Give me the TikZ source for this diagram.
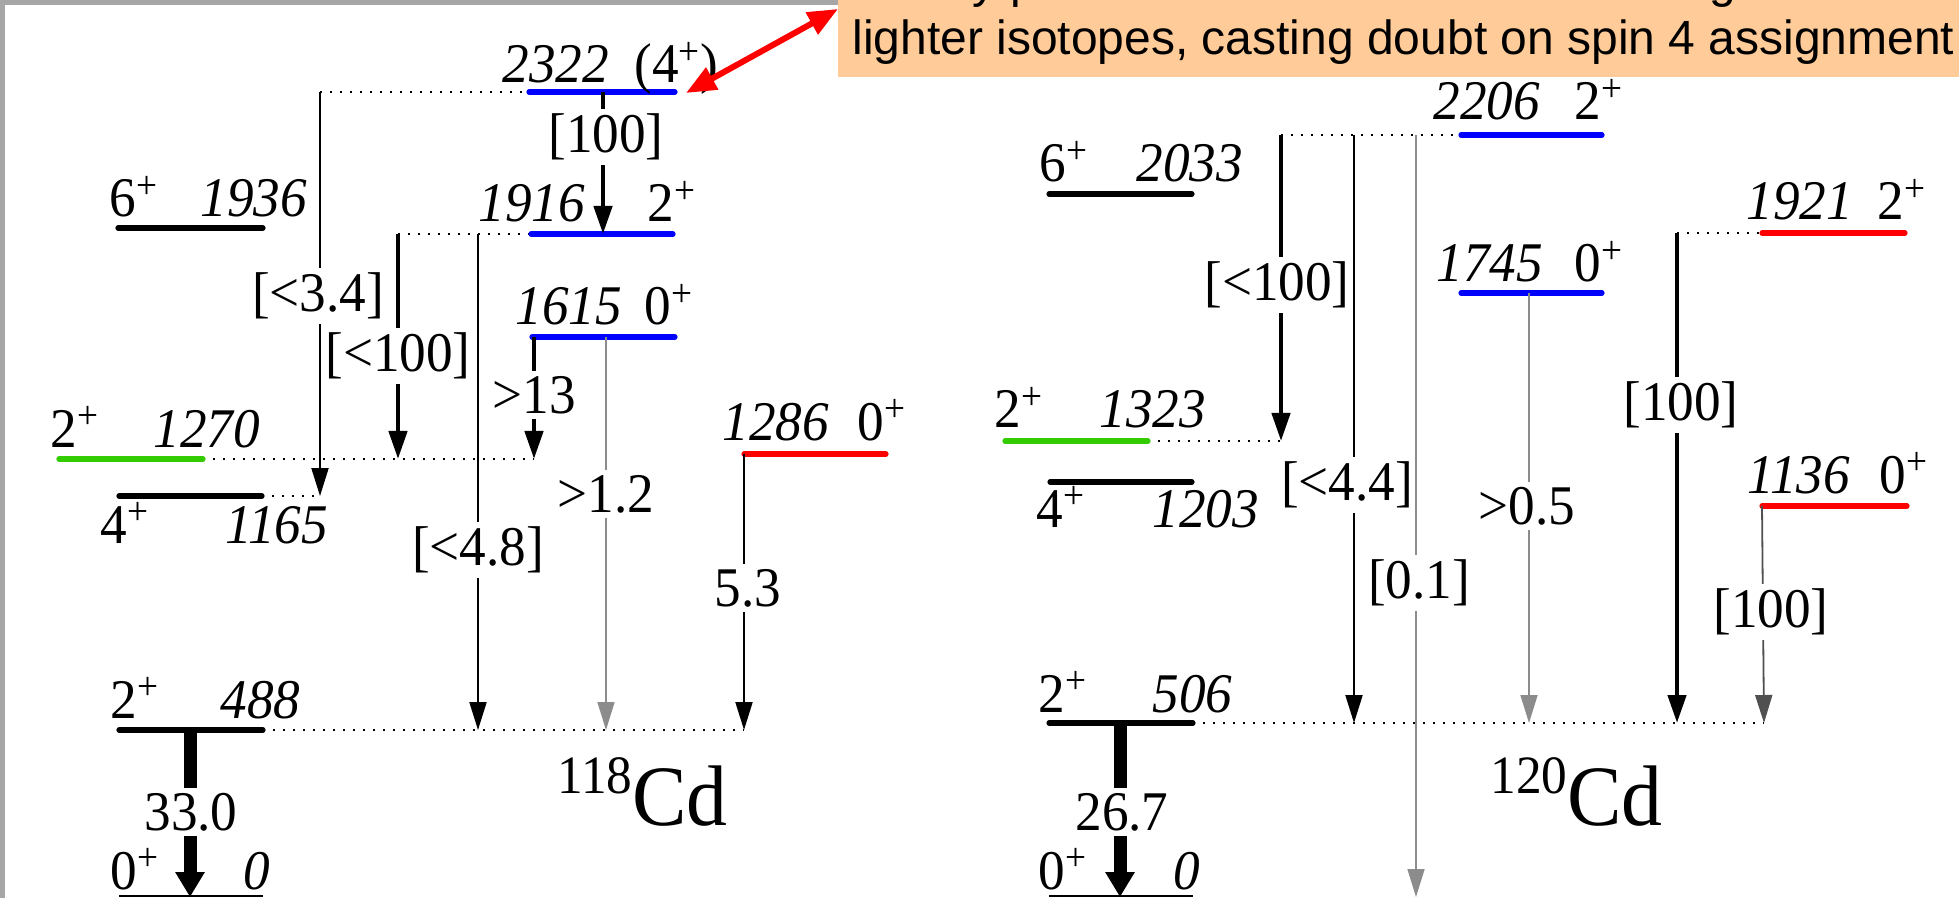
\documentclass[tikz,border=0pt]{standalone}
\usepackage{fontspec}
\setmainfont[FakeStretch=0.95]{Liberation Serif}
\newfontfamily\sansf{Liberation Sans}
\usetikzlibrary{arrows.meta}
\definecolor{lvblue}{RGB}{0,0,255}
\definecolor{lvred}{RGB}{255,0,0}
\definecolor{lvgreen}{RGB}{51,204,0}
\definecolor{peach}{RGB}{255,204,153}
\definecolor{framegray}{RGB}{166,166,166}
\definecolor{tgray}{RGB}{140,140,140}
\definecolor{dgray}{RGB}{80,80,80}
\begin{document}
\begin{tikzpicture}[x=0.5pt,y=-0.5pt,
  level/.style={line width=2.6pt, line cap=round},
  dotline/.style={line width=0.8pt, dash pattern=on 1pt off 4pt},
  thinT/.style={line width=1pt, -{Triangle[length=14pt,width=8.5pt]}},
  grayT/.style={line width=0.8pt, draw=tgray, -{Triangle[length=14pt,width=8.5pt]}},
  dgrayT/.style={line width=0.9pt, draw=dgray, -{Triangle[length=14pt,width=8.5pt]}},
  thickT/.style={line width=2.2pt, -{Triangle[length=14pt,width=9pt]}},
  groundT/.style={line width=6.5pt, -{Triangle[length=12.5pt,width=14pt]}},
  lab/.style={inner sep=0pt, anchor=base west, font=\fontsize{28}{32}\selectfont},
  elab/.style={inner sep=0pt, anchor=base west, font=\fontsize{28}{32}\selectfont\itshape},
  tlab/.style={fill=white, inner xsep=1pt, inner ysep=2.5pt, font=\fontsize{28}{32}\selectfont},
  nuc/.style={inner sep=0pt, anchor=base west, font=\fontsize{43}{47}\selectfont},
  note/.style={inner sep=0pt, anchor=base west, font=\sansf\fontsize{24}{28}\selectfont},
  redarr/.style={draw=lvred, line width=3pt, {Triangle[length=15pt,width=12pt]}-{Triangle[length=15pt,width=12pt]}},
]
\useasboundingbox (0,0) rectangle (1959,898);
\clip (0,0) rectangle (1959,898);
\fill[white] (0,0) rectangle (1959,898);
\fill[framegray] (0,0) rectangle (1959,5);
\fill[framegray] (0,0) rectangle (5,898);

% ---------------- 118Cd ----------------
\coordinate (A2322l) at (529,92);  \coordinate (A2322r) at (675,92);
\coordinate (A1916l) at (531,234); \coordinate (A1916r) at (673,234);
\coordinate (A1615l) at (532,337); \coordinate (A1615r) at (675,337);
\coordinate (A1936l) at (118,228); \coordinate (A1936r) at (263,228);
\coordinate (A1270l) at (59,459);  \coordinate (A1270r) at (203,459);
\coordinate (A1165l) at (119,496); \coordinate (A1165r) at (262,496);
\coordinate (A1286l) at (744,454); \coordinate (A1286r) at (886,454);
\coordinate (A488l) at (119,730);  \coordinate (A488r) at (263,730);
\coordinate (A0l) at (119,896);    \coordinate (A0r) at (263,896);

\coordinate (a1s) at (320,92);  \coordinate (a1e) at (320,496);
\coordinate (a2s) at (603,92);  \coordinate (a2e) at (603,234);
\coordinate (a3s) at (398,234); \coordinate (a3e) at (398,459);
\coordinate (a4s) at (478,234); \coordinate (a4e) at (478,730);
\coordinate (a5s) at (534,337); \coordinate (a5e) at (534,459);
\coordinate (a6s) at (606,337); \coordinate (a6e) at (606,730);
\coordinate (a7e) at (744,730);
\coordinate (a8s) at (190,730); \coordinate (a8e) at (190,897);

\draw[dotline] (a1s) -- (A2322l);
\draw[dotline] (A1165r) -- (a1e);
\draw[dotline] (a3s) -- (A1916l);
\draw[dotline] (A1270r) -- (a5e);
\draw[dotline] (A488r) -- (a7e);

\draw[level, lvblue] (A2322l) -- (A2322r);
\draw[level, lvblue] (A1916l) -- (A1916r);
\draw[level, lvblue] (A1615l) -- (A1615r);
\draw[level] (A1936l) -- (A1936r);
\draw[level, lvgreen] (A1270l) -- (A1270r);
\draw[level] (A1165l) -- (A1165r);
\draw[level, lvred] (A1286l) -- (A1286r);
\draw[level] (A488l) -- (A488r);
\draw[line width=1pt] (A0l) -- (A0r);

\draw[thinT] (a1s) -- (a1e);
\draw[thickT] (a2s) -- (a2e);
\draw[thickT] (a3s) -- (a3e);
\draw[thinT] (a4s) -- (a4e);
\draw[thickT] (a5s) -- (a5e);
\draw[grayT] (a6s) -- (a6e);
\draw[thinT] (A1286l) -- (a7e);
\draw[groundT] (a8s) -- (a8e);

\node[tlab] (ta1) at (318,296) {[<3.4]};
\node[tlab] (ta2) at (606,137) {[100]};
\node[tlab] (ta3) at (398,356) {[<100]};
\node[tlab] (ta4) at (478,550) {[<4.8]};
\node[tlab] (ta5) at (534,395) {>13};
\node[tlab] (ta6) at (606,494) {>1.2};
\node[tlab] (ta7) at (748,588) {5.3};
\node[tlab] (ta8) at (191,812) {33.0};

\node[elab] (e2322) at (502,83) {2322};
\node[lab]  (s2322) at (634,83) {(4\textsuperscript{+})};
\node[elab] (e1916) at (478,222) {1916};
\node[lab]  (s1916) at (647,222) {2\textsuperscript{+}};
\node[elab] (e1615) at (515,325) {1615};
\node[lab]  (s1615) at (644,325) {0\textsuperscript{+}};
\node[lab]  (s1936) at (109,217) {6\textsuperscript{+}};
\node[elab] (e1936) at (200,217) {1936};
\node[lab]  (s1270) at (50,447) {2\textsuperscript{+}};
\node[elab] (e1270) at (153,447) {1270};
\node[lab]  (s1165) at (100,543) {4\textsuperscript{+}};
\node[elab] (e1165) at (225,543) {1165};
\node[elab] (e1286) at (722,440) {1286};
\node[lab]  (s1286) at (857,440) {0\textsuperscript{+}};
\node[lab]  (s488) at (110,718) {2\textsuperscript{+}};
\node[elab] (e488) at (220,718) {488};
\node[lab]  (s0a) at (110,889) {0\textsuperscript{+}};
\node[elab] (e0a) at (243,889) {0};
\node[nuc] (cd118) at (557,825) {\raisebox{16pt}{\fontsize{27}{30}\selectfont 118}Cd};

% ---------------- 120Cd ----------------
\coordinate (B2206l) at (1461,135); \coordinate (B2206r) at (1602,135);
\coordinate (B1745l) at (1461,293); \coordinate (B1745r) at (1602,293);
\coordinate (B2033l) at (1049,194); \coordinate (B2033r) at (1192,194);
\coordinate (B1921l) at (1762,233); \coordinate (B1921r) at (1905,233);
\coordinate (B1323l) at (1005,441); \coordinate (B1323r) at (1148,441);
\coordinate (B1203l) at (1050,482); \coordinate (B1203r) at (1192,482);
\coordinate (B1136l) at (1762,506); \coordinate (B1136r) at (1907,506);
\coordinate (B506l) at (1049,723);  \coordinate (B506r) at (1193,723);
\coordinate (B0l) at (1049,896);    \coordinate (B0r) at (1193,896);

\coordinate (b1s) at (1281,135); \coordinate (b1e) at (1281,441);
\coordinate (b2s) at (1354,135); \coordinate (b2e) at (1354,723);
\coordinate (b3s) at (1416,135); \coordinate (b3e) at (1416,897);
\coordinate (b4s) at (1529,293); \coordinate (b4e) at (1529,723);
\coordinate (b5s) at (1677,233); \coordinate (b5e) at (1677,723);
\coordinate (b6e) at (1764,723);
\coordinate (b7s) at (1120,723); \coordinate (b7e) at (1120,897);

\draw[dotline] (b1s) -- (B2206l);
\draw[dotline] (B1323r) -- (b1e);
\draw[dotline] (b5s) -- (B1921l);
\draw[dotline] (B506r) -- (b6e);

\draw[level, lvblue] (B2206l) -- (B2206r);
\draw[level, lvblue] (B1745l) -- (B1745r);
\draw[level] (B2033l) -- (B2033r);
\draw[level, lvred] (B1921l) -- (B1921r);
\draw[level, lvgreen] (B1323l) -- (B1323r);
\draw[level] (B1203l) -- (B1203r);
\draw[level, lvred] (B1136l) -- (B1136r);
\draw[level] (B506l) -- (B506r);
\draw[line width=1pt] (B0l) -- (B0r);

\draw[thickT] (b1s) -- (b1e);
\draw[thinT] (b2s) -- (b2e);
\draw[grayT] (b3s) -- (b3e);
\draw[grayT] (b4s) -- (b4e);
\draw[thickT] (b5s) -- (b5e);
\draw[dgrayT] (B1136l) -- (b6e);
\draw[groundT] (b7s) -- (b7e);

\node[tlab] (tb1) at (1277,285) {[<100]};
\node[tlab, inner xsep=0pt] (tb2) at (1347,485) {[<4.4]};
\node[tlab] (tb3) at (1419,583) {[0.1]};
\node[tlab] (tb4) at (1527,506) {>0.5};
\node[tlab] (tb5) at (1681,405) {[100]};
\node[tlab] (tb6) at (1771,612) {[100]};
\node[tlab] (tb7) at (1122,812) {26.7};

\node[elab] (e2206) at (1433,120) {2206};
\node[lab]  (s2206) at (1574,120) {2\textsuperscript{+}};
\node[elab] (e1745) at (1436,282) {1745};
\node[lab]  (s1745) at (1574,282) {0\textsuperscript{+}};
\node[lab]  (s2033) at (1039,182) {6\textsuperscript{+}};
\node[elab] (e2033) at (1136,182) {2033};
\node[elab] (e1921) at (1746,220) {1921};
\node[lab]  (s1921) at (1877,220) {2\textsuperscript{+}};
\node[elab] (e1136) at (1747,493) {1136};
\node[lab]  (s1136) at (1879,493) {0\textsuperscript{+}};
\node[lab]  (s1323) at (994,428) {2\textsuperscript{+}};
\node[elab] (e1323) at (1099,428) {1323};
\node[lab]  (s1203) at (1036,527) {4\textsuperscript{+}};
\node[elab] (e1203) at (1152,527) {1203};
\node[lab]  (s506) at (1038,712) {2\textsuperscript{+}};
\node[elab] (e506) at (1152,712) {506};
\node[lab]  (s0b) at (1038,889) {0\textsuperscript{+}};
\node[elab] (e0b) at (1173,889) {0};
\node[nuc] (cd120) at (1490,825) {\raisebox{16pt}{\fontsize{27}{30}\selectfont 120}Cd};

% ---------------- annotation ----------------
\fill[peach] (838,0) rectangle (1959,77);
\node[note] (n1) at (840,-2) {Weakly produced in contrast to the analogous levels in};
\node[note] (n2) at (852,55) {lighter isotopes, casting doubt on spin 4 assignment};
\coordinate (rA) at (686,93);
\coordinate (rB) at (838,9);
\draw[redarr] (rA) -- (rB);
\end{tikzpicture}
\end{document}
